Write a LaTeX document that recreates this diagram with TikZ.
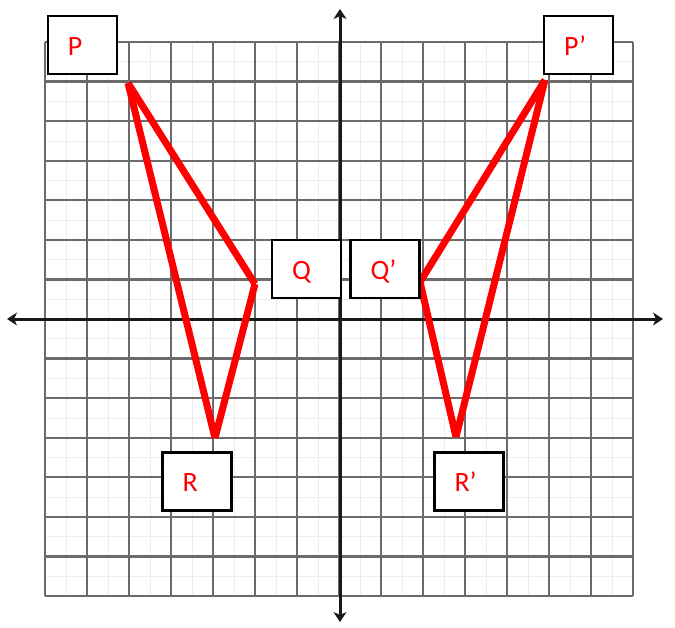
\documentclass[tikz,border=0pt]{standalone}
\usepackage{fontspec}
\setmainfont{Carlito}
\usetikzlibrary{arrows.meta}
\begin{document}
\begin{tikzpicture}[x=1pt,y=-1pt,
  gridmajor/.style={draw=black!58,line width=2.2pt},
  gridminor/.style={draw=black!7,line width=0.8pt},
  axisline/.style={draw=black!90,line width=3pt,{Stealth[length=10pt,width=13pt,inset=3pt]}-{Stealth[length=10pt,width=13pt,inset=3pt]}},
  tri/.style={draw=red,line width=7pt,line cap=butt},
  lbl/.style={draw=black,line width=2.6pt,fill=white,minimum width=69pt,minimum height=58pt,
    inner sep=0pt,text width=69pt,align=left,text height=20pt,text depth=0pt,
    text=red,font=\fontsize{28}{28}\selectfont}]
\useasboundingbox (0,0) rectangle (675,627);
% minor grid
\foreach \i in {0,...,13} {
  \draw[gridminor] ({45+42*\i+21},42) -- ({45+42*\i+21},596);
  \draw[gridminor] (45,{42+39.57*\i+19.8}) -- (633,{42+39.57*\i+19.8});
}
% major grid
\foreach \i in {0,...,14} {
  \draw[gridmajor] ({45+42*\i},42) -- ({45+42*\i},596);
  \draw[gridmajor] (45,{42+39.57*\i}) -- (633,{42+39.57*\i});
}
% axes
\coordinate (xl) at (7,319);
\coordinate (xr) at (663,319);
\coordinate (yt) at (340,9);
\coordinate (yb) at (340,622);
\draw[axisline] (xl) -- (xr);
\draw[axisline] (yb) -- (yt);
% vertices
\coordinate (P) at (128,83);
\coordinate (Q) at (255,284);
\coordinate (R) at (215,438);
\coordinate (P2) at (545,80);
\coordinate (Q2) at (420,282);
\coordinate (R2) at (456,437);
\draw[tri] (P) -- (Q);
\draw[tri] (Q) -- (R);
\draw[tri] (R) -- (P);
\draw[tri] (P2) -- (Q2);
\draw[tri] (Q2) -- (R2);
\draw[tri] (R2) -- (P2);
% labels
\node[lbl] (lP) at (82.5,45) {\hspace*{20pt}P};
\node[lbl] (lP2) at (578.5,45) {\hspace*{20pt}P’};
\node[lbl] (lQ) at (306.5,269) {\hspace*{20pt}Q};
\node[lbl] (lQ2) at (385,269) {\hspace*{20pt}Q’};
\node[lbl] (lR) at (197,481.5) {\hspace*{20pt}R};
\node[lbl] (lR2) at (469,481.5) {\hspace*{20pt}R’};
\end{tikzpicture}
\end{document}
